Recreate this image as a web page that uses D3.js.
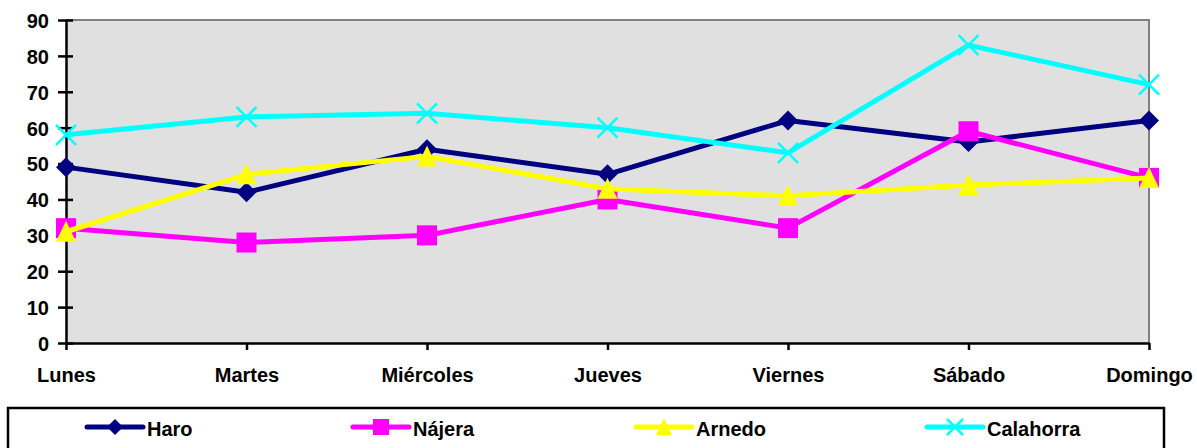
<!DOCTYPE html>
<html><head><meta charset="utf-8">
<script src="https://cdn.jsdelivr.net/npm/d3@7"></script>
<style>body{margin:0;background:#fff}svg{display:block;font-family:Arial,"Liberation Sans",sans-serif;font-weight:bold}</style>
</head><body><svg id="c" width="1197" height="448"></svg>
<script>
const categories = ["Lunes","Martes","Miércoles","Jueves","Viernes","Sábado","Domingo"];
const haro = [49,42,54,47,62,56,62];
const najera = [32,28,30,40,32,59,46];
const arnedo = [31,47,52,43,41,44,46];
const calahorra = [58,63,64,60,53,83,72];
const yTicks = [0,10,20,30,40,50,60,70,80,90];
const seriesNames = ["Haro","Nájera","Arnedo","Calahorra"];

const series = [
  {name:seriesNames[0], values:haro, color:"#000080", marker:"diamond"},
  {name:seriesNames[1], values:najera, color:"#FF00FF", marker:"square"},
  {name:seriesNames[2], values:arnedo, color:"#FFFF00", marker:"triangle"},
  {name:seriesNames[3], values:calahorra, color:"#00FFFF", marker:"x"}
];

const FONT = "Arial,'Liberation Sans',sans-serif";
const svg = d3.select("#c");
const L=66, R=1149, T=20, B=343;
const x = d3.scalePoint().domain(categories).range([L,R]).padding(0);
const y = d3.scaleLinear().domain([0,90]).range([B,T]);

svg.append("rect").attr("x",L).attr("y",T).attr("width",R-L).attr("height",B-T).attr("fill","#E0E0E0");
svg.append("path").attr("d",`M${L},${T}H${R}V${B}`).attr("fill","none").attr("stroke","#808080").attr("stroke-width",2);

// y axis
const ya = svg.append("g").attr("transform",`translate(${L},0)`)
  .call(d3.axisLeft(y).tickValues(yTicks).tickSize(7).tickSizeOuter(0).tickPadding(10));
ya.select(".domain").attr("stroke","#000").attr("stroke-width",2.5);
ya.selectAll(".tick line").attr("stroke","#000").attr("stroke-width",2.5).attr("x2",-8).attr("x1",7);
ya.selectAll(".tick text").attr("font-size",20).attr("font-weight","bold").attr("fill","#000").attr("font-family",FONT).attr("dy","0.37em");

// x axis
const xa = svg.append("g").attr("transform",`translate(0,${B})`)
  .call(d3.axisBottom(x).tickSize(7).tickSizeOuter(0));
xa.select(".domain").attr("stroke","#000").attr("stroke-width",2.5);
xa.selectAll(".tick line").attr("stroke","#000").attr("stroke-width",2.5);
xa.selectAll(".tick text").attr("font-size",20).attr("font-weight","bold").attr("fill","#000").attr("font-family",FONT).attr("y",38.5).attr("dy",0);

function drawMarker(g, type, cx, cy, color, k){
  if(type==="diamond"){
    const r=10*k;
    g.append("path").attr("d",`M${cx},${cy-r}L${cx+r},${cy}L${cx},${cy+r}L${cx-r},${cy}Z`).attr("fill",color);
  } else if(type==="square"){
    const r=10*k;
    g.append("rect").attr("x",cx-r).attr("y",cy-r).attr("width",2*r).attr("height",2*r).attr("fill",color);
  } else if(type==="triangle"){
    const r=10*k;
    g.append("path").attr("d",`M${cx},${cy-r-1}L${cx+r},${cy+r}L${cx-r},${cy+r}Z`).attr("fill",color);
  } else {
    const r=10*k;
    g.append("path").attr("d",`M${cx-r},${cy-r}L${cx+r},${cy+r}M${cx+r},${cy-r}L${cx-r},${cy+r}`).attr("stroke",color).attr("stroke-width",2.5);
  }
}

const line = d3.line().x((d,i)=>x(categories[i])).y(d=>y(d));
series.forEach(s=>{
  const g = svg.append("g");
  g.append("path").attr("d",line(s.values)).attr("fill","none").attr("stroke",s.color).attr("stroke-width",5).attr("stroke-linejoin","round");
  s.values.forEach((v,i)=>drawMarker(g,s.marker,x(categories[i]),y(v),s.color,1));
});

// legend
svg.append("rect").attr("x",8).attr("y",408).attr("width",1156).attr("height",50).attr("fill","#fff").attr("stroke","#000").attr("stroke-width",2.5);
const legX = [87,353,636,927];
series.forEach((s,i)=>{
  const g = svg.append("g");
  const lx = legX[i], ly = 427;
  g.append("line").attr("x1",lx).attr("x2",lx+56).attr("y1",ly).attr("y2",ly).attr("stroke",s.color).attr("stroke-width",5).attr("stroke-linecap","round");
  drawMarker(g,s.marker,lx+28,ly,s.color,0.8);
  g.append("text").attr("x",lx+60).attr("y",ly+9).attr("font-size",20).attr("fill","#000").text(s.name);
});
</script></body></html>
